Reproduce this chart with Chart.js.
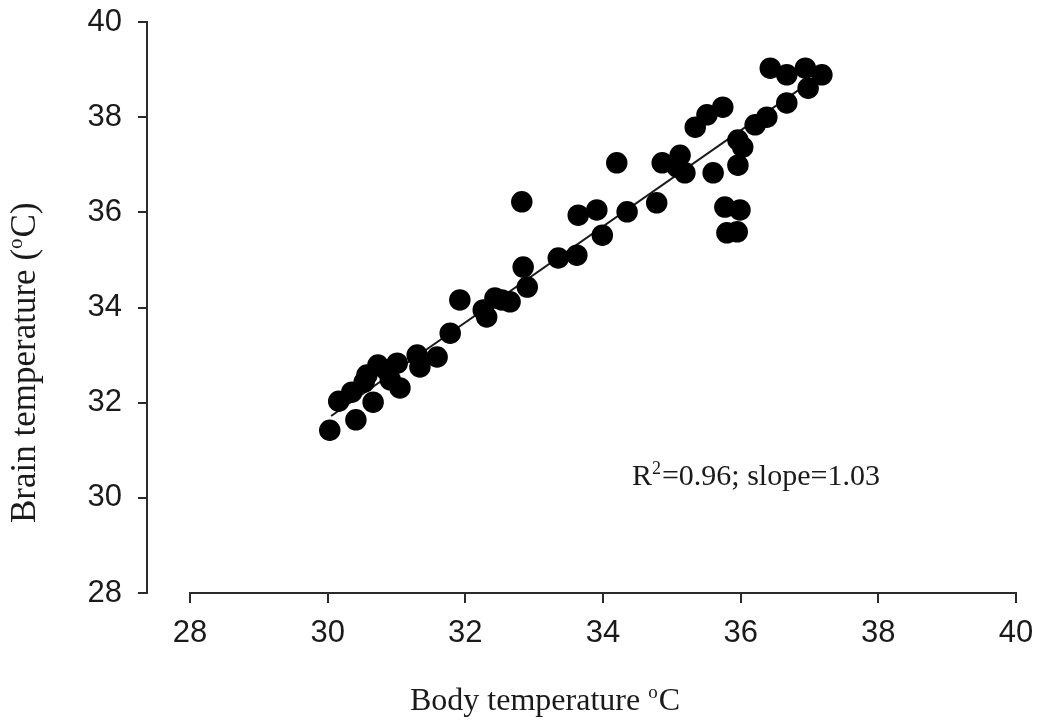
<!DOCTYPE html>
<html>
<head>
<meta charset="utf-8">
<title>Brain vs body temperature</title>
<script src="https://cdn.jsdelivr.net/npm/chart.js@4.4.1/dist/chart.umd.min.js"></script>
<style>
  html, body { margin: 0; padding: 0; background: #fff; }
  #wrap { width: 1043px; height: 722px; }
</style>
</head>
<body>
<div id="wrap"><canvas id="tempChart" width="1043" height="722"></canvas></div>
<script>
// body temperature (x) and brain temperature (y)
const bodyTemp = [
  30.03, 30.16, 30.41, 30.35, 30.57, 30.66, 30.73, 30.53, 30.91, 31.01,
  31.05, 30.85, 31.30, 31.34, 31.59, 31.78, 31.92, 32.26, 32.31, 32.43,
  32.53, 32.65, 32.90, 32.84, 32.82, 33.35, 33.62, 33.64, 33.91, 33.99,
  34.35, 34.20, 34.78, 34.86, 35.08, 35.12, 35.19, 35.60, 35.34, 35.51,
  35.74, 35.77, 35.99, 35.80, 35.95, 35.96, 35.96, 36.03, 36.21, 36.38,
  36.67, 36.43, 36.67, 36.94, 36.98, 37.18
];
const brainTemp = [
  31.42, 32.03, 31.64, 32.22, 32.58, 32.01, 32.79, 32.43, 32.48, 32.83,
  32.31, 32.69, 33.00, 32.75, 32.96, 33.46, 34.16, 33.95, 33.80, 34.20,
  34.16, 34.12, 34.43, 34.85, 36.22, 35.04, 35.10, 35.94, 36.05, 35.52,
  36.01, 37.04, 36.20, 37.04, 36.95, 37.20, 36.83, 36.83, 37.79, 38.05,
  38.21, 36.11, 36.05, 35.57, 35.59, 36.99, 37.52, 37.37, 37.84, 38.00,
  38.30, 39.03, 38.89, 39.03, 38.61, 38.89
];

// fitted line end points (as drawn)
const fitX = [30.05, 37.1];
const fitY = [31.72, 38.83];

const xTicks = [28, 30, 32, 34, 36, 38, 40];
const yTicks = [28, 30, 32, 34, 36, 38, 40];

const xTitle = ['Body temperature ', 'o', 'C'];
const yTitle = ['Brain temperature (', 'o', 'C)'];
const fitNote = ['R', '2', '=0.96; slope=1.03'];

const axisColor = '#2b2b2b';
const serif = '"Liberation Serif", "Times New Roman", serif';
const sans = '"Liberation Sans", Arial, sans-serif';

// draw a string made of [normal, superscript, normal]
function drawSup(ctx, parts, x, y, size) {
  const big = size + 'px ' + serif;
  const small = Math.round(size * 0.6) + 'px ' + serif;
  ctx.textBaseline = 'alphabetic';
  ctx.textAlign = 'left';
  ctx.font = big;
  ctx.fillText(parts[0], x, y);
  x += ctx.measureText(parts[0]).width;
  ctx.font = small;
  ctx.fillText(parts[1], x, y - size * 0.38);
  x += ctx.measureText(parts[1]).width + 1;
  ctx.font = big;
  ctx.fillText(parts[2], x, y);
}

const extras = {
  id: 'extras',
  beforeDatasetsDraw(chart) {
    const ctx = chart.ctx;
    const xs = chart.scales.x;
    // x axis line only spans the labelled range
    ctx.save();
    ctx.strokeStyle = axisColor;
    ctx.lineWidth = 2;
    ctx.beginPath();
    ctx.moveTo(xs.getPixelForValue(xTicks[0]) - 1, xs.top);
    ctx.lineTo(xs.getPixelForValue(xTicks[xTicks.length - 1]) + 1, xs.top);
    ctx.stroke();
    ctx.restore();
  },
  afterDraw(chart) {
    const ctx = chart.ctx;
    const xs = chart.scales.x;
    const ys = chart.scales.y;
    ctx.save();
    ctx.fillStyle = '#1a1a1a';
    drawSup(ctx, xTitle, 410, 710, 32);

    ctx.save();
    ctx.translate(35, 523);
    ctx.rotate(-Math.PI / 2);
    drawSup(ctx, yTitle, 0, 0, 35);
    ctx.restore();

    drawSup(ctx, fitNote, xs.getPixelForValue(34.42), ys.getPixelForValue(30.27), 30);
    ctx.restore();
  }
};

new Chart(document.getElementById('tempChart'), {
  type: 'scatter',
  data: {
    datasets: [
      {
        type: 'line',
        data: fitX.map((x, i) => ({ x: x, y: fitY[i] })),
        borderColor: '#1a1a1a',
        borderWidth: 2,
        pointRadius: 0,
        fill: false,
        order: 2
      },
      {
        data: bodyTemp.map((x, i) => ({ x: x, y: brainTemp[i] })),
        backgroundColor: '#000',
        borderColor: '#000',
        borderWidth: 1.5,
        pointRadius: 10,
        pointHoverRadius: 10,
        order: 1
      }
    ]
  },
  plugins: [extras],
  options: {
    responsive: false,
    animation: false,
    layout: { padding: { top: 22, right: 27, left: 0, bottom: 0 } },
    plugins: {
      legend: { display: false },
      tooltip: { enabled: false }
    },
    scales: {
      x: {
        type: 'linear',
        min: 27.375,
        max: 40,
        afterBuildTicks: (s) => { s.ticks = xTicks.map(v => ({ value: v })); },
        afterFit: (s) => { s.height = 129; s.paddingLeft = 0; s.paddingRight = 0; },
        border: { display: false },
        grid: { drawOnChartArea: false, tickLength: 10, color: axisColor, lineWidth: 2 },
        ticks: {
          color: '#1a1a1a',
          padding: 12,
          font: { family: sans, size: 31 }
        }
      },
      y: {
        type: 'linear',
        min: 28,
        max: 40,
        afterBuildTicks: (s) => { s.ticks = yTicks.map(v => ({ value: v })); },
        afterFit: (s) => { s.width = 147; s.paddingTop = 0; s.paddingBottom = 0; },
        border: { display: true, color: axisColor, width: 2 },
        grid: { drawOnChartArea: false, tickLength: 9, color: axisColor, lineWidth: 2 },
        ticks: {
          color: '#1a1a1a',
          padding: 16,
          font: { family: sans, size: 31 }
        }
      }
    }
  }
});
</script>
</body>
</html>
